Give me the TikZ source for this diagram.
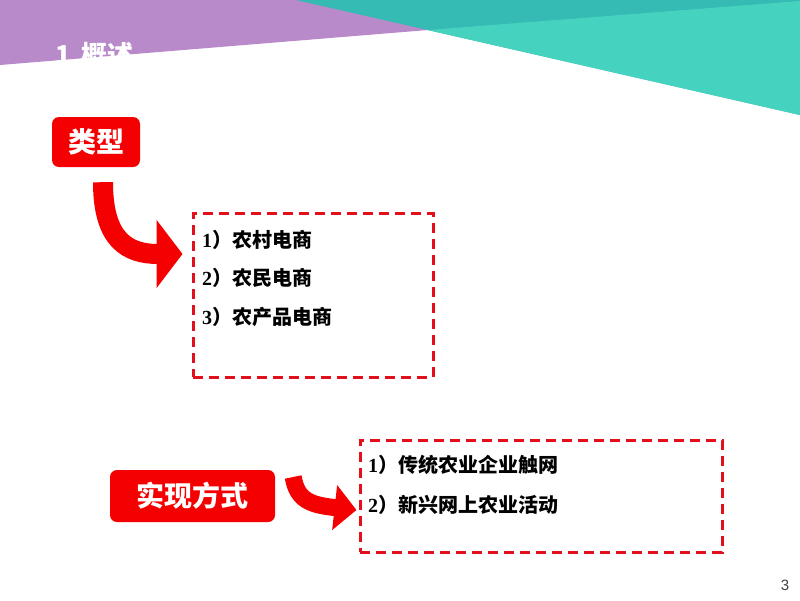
\documentclass[tikz,border=0pt]{standalone}
\usepackage{fontspec}
\setmainfont{Liberation Serif}
\newfontfamily\cjk{Noto Sans CJK SC}
\newfontfamily\sansf{Liberation Sans}
\usetikzlibrary{arrows.meta,calc}
\definecolor{purp}{HTML}{B98ACA}
\definecolor{tealdark}{HTML}{35BAB4}
\definecolor{teallight}{HTML}{45D3C0}
\definecolor{boxred}{HTML}{F50000}
\definecolor{dashred}{HTML}{E3101B}
\definecolor{pagegray}{HTML}{404040}
\tikzset{
  labelbox/.style={fill=boxred, rounded corners=7pt, text=white, inner sep=0pt,
    font=\cjk\bfseries\fontsize{28}{28}\selectfont},
  dbox/.style={draw=dashred, line width=3pt, dash pattern=on 10pt off 6pt, inner sep=0pt},
  itemtext/.style={anchor=west, inner sep=0pt, font=\bfseries\fontsize{20}{20}\selectfont},
  fatarrow/.style={draw=boxred, line cap=butt}
}
\newcommand{\cj}[1]{{\cjk\bfseries #1}}
\begin{document}
\begin{tikzpicture}[x=1pt,y=-1pt]
\useasboundingbox (0,0) rectangle (800,600);
\fill[white] (0,0) rectangle (800,600);
% background shapes
\fill[purp] (0,0) -- (350,0) -- (428,30) -- (0,65) -- cycle;
\fill[tealdark] (296,0) -- (800,0) -- (800,115) -- cycle;
\fill[teallight] (428,30) -- (800,1) -- (800,115) -- cycle;
\node[anchor=base west, inner sep=0pt, text=white, font=\cjk\bfseries\fontsize{26}{26}\selectfont] (title) at (55,64) {1\hspace{10pt}概述};
% label boxes
\node[labelbox, minimum width=88pt, minimum height=50pt] (lx) at (96,142) {类型};
\node[labelbox, minimum width=165pt, minimum height=52pt] (sx) at (192.5,496) {实现方式};
% dashed boxes
\node[dbox, minimum width=240pt, minimum height=164pt] (b1) at (313,295) {};
\node[dbox, minimum width=362pt, minimum height=112pt] (b2) at (541,496) {};
% items
\node[itemtext] (t11) at (202,240) {1\cj{）农村电商}};
\node[itemtext] (t12) at (202,278) {2\cj{）农民电商}};
\node[itemtext] (t13) at (202,317) {3\cj{）农产品电商}};
\node[itemtext] (t21) at (368,465) {1\cj{）传统农业企业触网}};
\node[itemtext] (t22) at (368,505) {2\cj{）新兴网上农业活动}};
% arrows
\coordinate (a1s) at ($(lx.south)+(7,15)$);
\coordinate (a1e) at ($(b1.west)+(-9,-41)$);
\draw[fatarrow, line width=20pt, -{Triangle[width=67pt,length=26pt]}]
  (a1s) .. controls ($(a1s)+(0,58)$) and ($(a1e)+(-55,0)$) .. (a1e);
\coordinate (a2s) at ($(sx.east)+(18,-19)$);
\coordinate (a2e) at ($(b2.west)+(-2,14)$);
\draw[fatarrow, line width=17pt, -{Triangle[width=44pt,length=22pt]}]
  (a2s) .. controls ($(a2s)+(4,24)$) and ($(a2e)+(-45,-5)$) .. (a2e);
% page number
\node[text=pagegray, font=\sansf\fontsize{15}{15}\selectfont] (pg) at (785,585) {3};
\end{tikzpicture}
\end{document}
